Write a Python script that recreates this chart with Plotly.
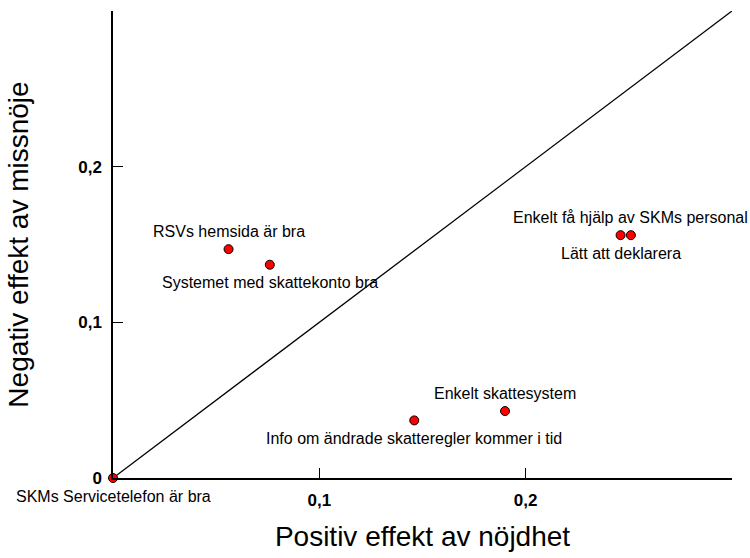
import plotly.graph_objects as go

labels = [
    "SKMs Servicetelefon är bra",
    "RSVs hemsida är bra",
    "Systemet med skattekonto bra",
    "Info om ändrade skatteregler kommer i tid",
    "Enkelt skattesystem",
    "Lätt att deklarera",
    "Enkelt få hjälp av SKMs personal",
]
positiv = [0.0, 0.056, 0.076, 0.146, 0.190, 0.246, 0.251]
negativ = [0.0, 0.147, 0.137, 0.037, 0.043, 0.156, 0.156]
label_side = ["below", "above", "below", "below", "above", "below", "above"]

diag = [0.0, 0.3]
x_tickvals = [0.1, 0.2]
x_ticktext = ["0,1", "0,2"]
y_tickvals = [0.0, 0.1, 0.2]
y_ticktext = ["0", "0,1", "0,2"]

FONT = "Arial, Liberation Sans, sans-serif"

fig = go.Figure()
fig.add_trace(go.Scatter(x=diag, y=diag, mode="lines",
                         line=dict(color="black", width=1.3),
                         hoverinfo="skip", showlegend=False, cliponaxis=False))
fig.add_trace(go.Scatter(
    x=positiv, y=negativ, mode="markers", text=labels,
    marker=dict(size=9, color="#ff0000", line=dict(color="black", width=1)),
    cliponaxis=False, showlegend=False))

for xv, yv, t, side in zip(positiv, negativ, labels, label_side):
    fig.add_annotation(x=xv, y=yv, text=t, showarrow=False,
                       xanchor="center", yanchor="middle",
                       yshift=17.5 if side == "above" else -18,
                       font=dict(family=FONT, size=16, color="black"))

fig.update_layout(
    width=750, height=558,
    margin=dict(l=113, r=18, t=11, b=73),
    paper_bgcolor="white", plot_bgcolor="white",
    font=dict(family=FONT, color="black"),
)
fig.update_xaxes(range=[0, 0.3], showgrid=False, zeroline=False,
                 showline=True, linecolor="black", linewidth=1.5,
                 ticks="inside", ticklen=10, tickcolor="black", tickwidth=1,
                 tickvals=x_tickvals, ticktext=x_ticktext,
                 tickfont=dict(family=FONT, size=17, weight="bold"),
                 ticklabelstandoff=6,
                 title=dict(text="Positiv effekt av nöjdhet",
                            font=dict(family=FONT, size=28), standoff=17))
fig.update_yaxes(range=[0, 0.3], showgrid=False, zeroline=False,
                 showline=True, linecolor="black", linewidth=1.5,
                 ticks="inside", ticklen=10, tickcolor="black", tickwidth=1,
                 tickvals=y_tickvals, ticktext=y_ticktext,
                 tickfont=dict(family=FONT, size=17, weight="bold"),
                 ticklabelstandoff=6,
                 title=dict(text="Negativ effekt av missnöje",
                            font=dict(family=FONT, size=28), standoff=41))

fig.write_html("out.html", config={"displayModeBar": False},
               post_script="document.body.style.margin='0';document.body.style.overflow='hidden';")
